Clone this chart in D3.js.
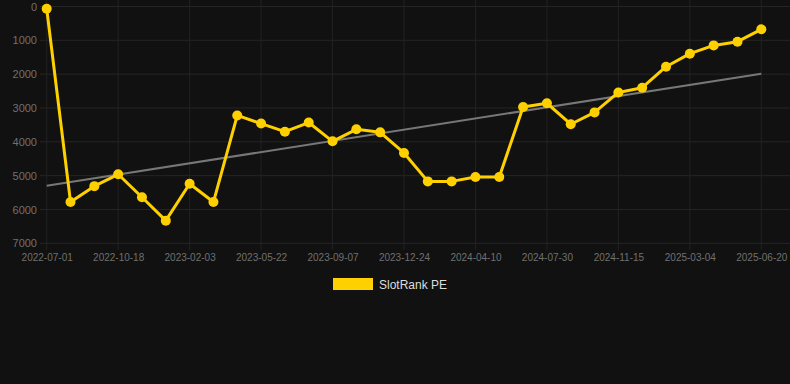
<!DOCTYPE html>
<html><head><meta charset="utf-8">
<script src="https://cdn.jsdelivr.net/npm/d3@7"></script>
<style>
html,body{margin:0;padding:0;background:#111111;}
svg{display:block;}
</style></head>
<body>
<svg id="chart" width="790" height="384"></svg>
<script>
const seriesName = "SlotRank PE";
const values = [65, 5780, 5310, 4960, 5640, 6330, 5240, 5780, 3220, 3460, 3700, 3430, 3985, 3630, 3720,
  4330, 5170, 5170, 5040, 5040, 2970, 2860, 3480, 3130, 2540, 2400, 1780, 1395, 1150, 1040, 675];
const tickLabels = ["2022-07-01","2022-10-18","2023-02-03","2023-05-22","2023-09-07","2023-12-24",
  "2024-04-10","2024-07-30","2024-11-15","2025-03-04","2025-06-20"];
const tickIndex = [0,3,6,9,12,15,18,21,24,27,30];
const yTicks = [0,1000,2000,3000,4000,5000,6000,7000];
const trendValues = [5297, 1986];

const svg = d3.select("#chart");
const x = d3.scaleLinear().domain([0, values.length - 1]).range([46.7, 761.3]);
const y = d3.scaleLinear().domain([0, 7000]).range([6.5, 243.3]);

// grid
const g = svg.append("g");
g.selectAll("line.h").data(yTicks).join("line")
  .attr("x1", 40).attr("x2", 790)
  .attr("y1", d => y(d)).attr("y2", d => y(d))
  .attr("stroke", "#252525").attr("stroke-width", 1);
g.selectAll("line.v").data(tickIndex).join("line")
  .attr("x1", d => x(d)).attr("x2", d => x(d))
  .attr("y1", 0).attr("y2", 250)
  .attr("stroke", "#222222").attr("stroke-width", 1);

// y axis labels
const yAxis = d3.axisLeft(y).tickValues(yTicks).tickSize(0).tickPadding(0).tickFormat(d3.format("d"));
svg.append("g").attr("transform", "translate(37,0)").call(yAxis)
  .call(s => s.select(".domain").remove())
  .selectAll("text").attr("fill", "#707070").style("font-family", "Arial, 'Liberation Sans', sans-serif").style("font-size", "11px");

// x axis labels
const xAxis = d3.axisBottom(x).tickValues(tickIndex).tickSize(0).tickPadding(0)
  .tickFormat((d, i) => tickLabels[i]);
svg.append("g").attr("transform", "translate(0,254)").call(xAxis)
  .call(s => s.select(".domain").remove())
  .selectAll("text").attr("fill", "#707070").style("font-family", "Arial, 'Liberation Sans', sans-serif").style("font-size", "10px");

// trend line
svg.append("line")
  .attr("x1", x(0)).attr("x2", x(values.length - 1))
  .attr("y1", y(trendValues[0])).attr("y2", y(trendValues[1]))
  .attr("stroke", "#777777").attr("stroke-width", 2);

// series
const line = d3.line().x((d, i) => x(i)).y(d => y(d));
svg.append("path").datum(values).attr("d", line)
  .attr("fill", "none").attr("stroke", "#FFD000").attr("stroke-width", 3).attr("stroke-linejoin", "round");
svg.selectAll("circle.pt").data(values).join("circle")
  .attr("cx", (d, i) => x(i)).attr("cy", d => y(d)).attr("r", 5)
  .attr("fill", "#FFD000");

// legend
const leg = svg.append("g");
leg.append("rect").attr("x", 333).attr("y", 278).attr("width", 40).attr("height", 12).attr("fill", "#FFD000");
leg.append("text").attr("x", 379).attr("y", 288.5).text(seriesName)
  .attr("fill", "#dddddd").style("font-family", "Arial, 'Liberation Sans', sans-serif").style("font-size", "12px");
</script>
</body></html>
